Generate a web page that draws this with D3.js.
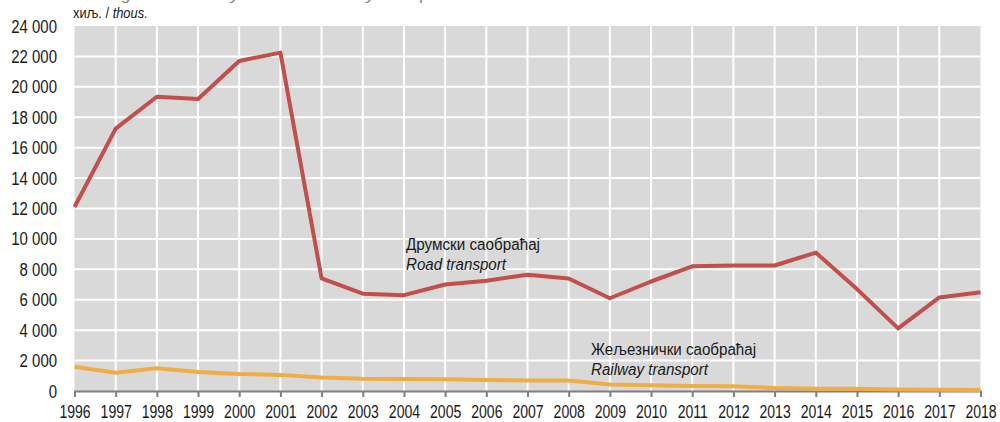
<!DOCTYPE html>
<html>
<head>
<meta charset="utf-8">
<script src="https://cdn.jsdelivr.net/npm/d3@7"></script>
<style>
  body { margin: 0; background: #fff; }
  svg text { font-family: "Liberation Sans", Arial, sans-serif; fill: #1a1a1a; }
</style>
</head>
<body>
<svg id="chart" width="1000" height="422"></svg>
<script>
var years = [1996, 1997, 1998, 1999, 2000, 2001, 2002, 2003, 2004, 2005, 2006, 2007,
             2008, 2009, 2010, 2011, 2012, 2013, 2014, 2015, 2016, 2017, 2018];
var road = [12100, 17250, 19350, 19200, 21700, 22250, 7400, 6400, 6300, 7000, 7250, 7650,
            7400, 6100, 7200, 8200, 8250, 8250, 9100, 6700, 4120, 6150, 6500];
var rail = [1600, 1200, 1490, 1250, 1120, 1060, 880, 800, 790, 780, 720, 690,
            690, 420, 380, 330, 320, 190, 140, 140, 100, 80, 70];
var yTicks = [0, 2000, 4000, 6000, 8000, 10000, 12000, 14000, 16000, 18000, 20000, 22000, 24000];

var svg = d3.select("#chart");
var x = d3.scaleLinear().domain([1996, 2018]).range([74.5, 980.5]);
var y = d3.scaleLinear().domain([0, 24000]).range([391, 26]);

var fmt = function(v){ return d3.format(",")(v).replace(/,/g, " "); };

// uski font: sabija tekst po sirini
var narrow = function(sel, k){
  sel.each(function(){
    var w = this.getComputedTextLength();
    d3.select(this).attr("textLength", w * k).attr("lengthAdjust", "spacingAndGlyphs");
  });
};

// pozadina
svg.append("rect")
  .attr("x", x(1996)).attr("y", y(24000))
  .attr("width", x(2018) - x(1996)).attr("height", y(0) - y(24000))
  .attr("fill", "#d9d9d9");

// mreza
svg.append("g").selectAll("line").data(yTicks.slice(1, -1)).enter().append("line")
  .attr("x1", x(1996)).attr("x2", x(2018))
  .attr("y1", function(d){ return y(d); }).attr("y2", function(d){ return y(d); })
  .attr("stroke", "#fff").attr("stroke-width", 2);
svg.append("g").selectAll("line").data(years.slice(1, -1)).enter().append("line")
  .attr("x1", function(d){ return x(d); }).attr("x2", function(d){ return x(d); })
  .attr("y1", y(24000)).attr("y2", y(0))
  .attr("stroke", "#fff").attr("stroke-width", 2);

// naslov (odsecen na vrhu kao u originalu)
svg.append("text").attr("x", 62).attr("y", 0)
  .style("font-style", "italic").style("font-size", "17px").style("fill", "#888")
  .text("Passengers carried by road and railway transport")
  .call(narrow, 1.05);

svg.append("text").attr("x", 73).attr("y", 18).style("font-size", "14px")
  .html('хиљ. / <tspan style="font-style:italic">thous.</tspan>')
  .call(narrow, 0.92);

// y osa
svg.append("g").selectAll("text").data(yTicks).enter().append("text")
  .attr("x", 57).attr("y", function(d){ return y(d) + 6.5; })
  .attr("text-anchor", "end").style("font-size", "18px")
  .text(fmt)
  .call(narrow, 0.83);

// x osa
var xAxis = d3.axisBottom(x).tickValues(years).tickFormat(d3.format("d")).tickSize(6).tickPadding(8);
var gx = svg.append("g").attr("transform", "translate(0," + y(0) + ")").call(xAxis);
gx.select(".domain").attr("stroke", "#7f7f7f").attr("stroke-width", 2);
gx.selectAll(".tick line").attr("stroke", "#7f7f7f").attr("stroke-width", 2);
gx.selectAll(".tick text").attr("font-family", null).style("font-size", "18px").attr("fill", "#1a1a1a")
  .call(narrow, 0.78);

var line = d3.line().x(function(d, i){ return x(years[i]); }).y(function(d){ return y(d); });

svg.append("path").datum(rail).attr("d", line)
  .attr("fill", "none").attr("stroke", "#f0ad45").attr("stroke-width", 4).attr("stroke-linejoin", "round");
svg.append("path").datum(road).attr("d", line)
  .attr("fill", "none").attr("stroke", "#c24f4c").attr("stroke-width", 4).attr("stroke-linejoin", "round");

// oznake serija
var labels = [
  { x: 406, y: 250, t1: "Друмски саобраћај", t2: "Road transport", w1: 134, w2: 100 },
  { x: 591, y: 355, t1: "Жељезнички саобраћај", t2: "Railway transport", w1: 165, w2: 117 }
];
labels.forEach(function(l){
  svg.append("text").attr("x", l.x).attr("y", l.y).style("font-size", "16px")
    .attr("textLength", l.w1).attr("lengthAdjust", "spacingAndGlyphs").text(l.t1);
  svg.append("text").attr("x", l.x).attr("y", l.y + 20).style("font-size", "16px")
    .style("font-style", "italic")
    .attr("textLength", l.w2).attr("lengthAdjust", "spacingAndGlyphs").text(l.t2);
});
</script>
</body>
</html>
